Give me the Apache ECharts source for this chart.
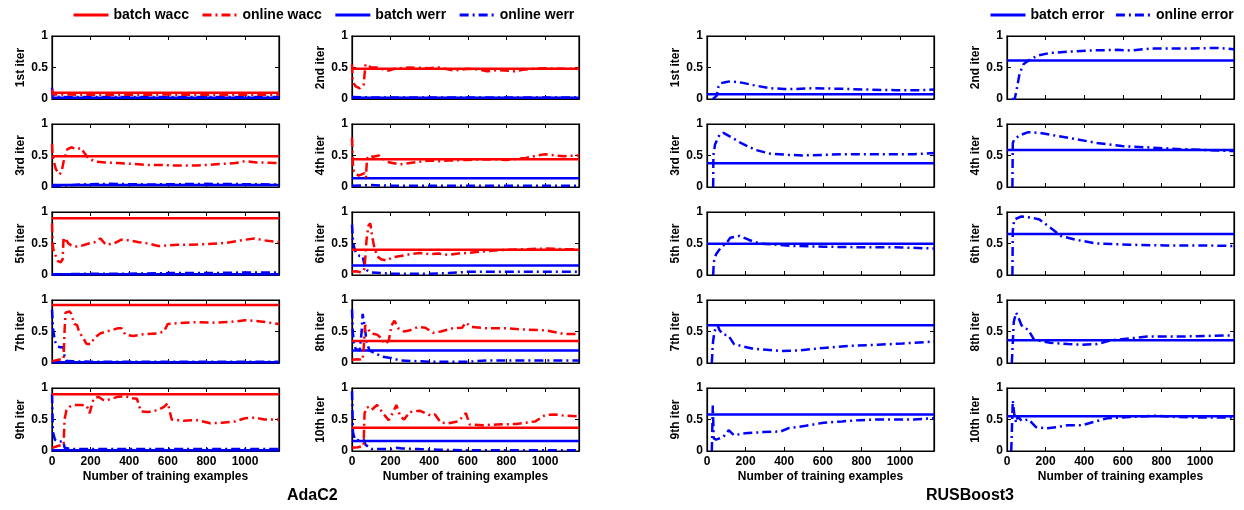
<!DOCTYPE html>
<html><head><meta charset="utf-8">
<script src="https://cdn.jsdelivr.net/npm/echarts@6/dist/echarts.min.js"></script>
<style>html,body{margin:0;padding:0;background:#fff}#c{width:1244px;height:510px}</style>
</head><body><div id="c"></div>
<script>
// ---------------- DATA ----------------
const xMax = 1176;
const xTicks = [0, 200, 400, 600, 800, 1000];
const iterNames = ['1st iter','2nd iter','3rd iter','4th iter','5th iter','6th iter','7th iter','8th iter','9th iter','10th iter'];

// AdaC2 batch constants
const adaBatchWacc = [0.10, 0.48, 0.49, 0.44, 0.90, 0.40, 0.92, 0.35, 0.90, 0.37];
const adaBatchWerr = [0.02, 0.02, 0.03, 0.14, 0.01, 0.15, 0.01, 0.20, 0.01, 0.16];
// RUSBoost3 batch constant
const rusBatchError = [0.074, 0.61, 0.377, 0.586, 0.497, 0.65, 0.60, 0.36, 0.58, 0.55];

// AdaC2 online wacc, [examples, value]
const adaOnlineWacc1 = [[0,0.15],[4,0.08],[20,0.07],[100,0.07],[300,0.065],[600,0.07],[900,0.065],[1176,0.07]];
const adaOnlineWacc2 = [[0,0.55],[3,0.3],[8,0.25],[20,0.2],[40,0.17],[60,0.22],[65,0.25],[70,0.55],[80,0.52],[100,0.5],[130,0.5],[160,0.47],[190,0.45],[220,0.48],[300,0.5],[400,0.49],[450,0.5],[530,0.45],[600,0.48],[650,0.47],[700,0.44],[760,0.46],[840,0.44],[900,0.47],[1000,0.49],[1100,0.48],[1176,0.48]];
const adaOnlineWacc3 = [[0,0.68],[3,0.5],[10,0.4],[20,0.28],[30,0.25],[40,0.2],[50,0.25],[60,0.4],[70,0.42],[80,0.6],[100,0.63],[130,0.6],[150,0.62],[170,0.53],[190,0.45],[200,0.42],[230,0.4],[280,0.39],[340,0.38],[400,0.37],[450,0.36],[500,0.35],[560,0.35],[650,0.34],[750,0.34],[850,0.36],[950,0.38],[1000,0.41],[1060,0.39],[1176,0.38]];
const adaOnlineWacc4 = [[0,0.78],[3,0.5],[6,0.28],[15,0.22],[25,0.25],[35,0.18],[50,0.2],[65,0.22],[72,0.15],[78,0.45],[90,0.5],[110,0.48],[140,0.5],[160,0.45],[180,0.4],[210,0.38],[250,0.36],[300,0.38],[350,0.4],[400,0.42],[450,0.41],[500,0.42],[600,0.43],[700,0.44],[800,0.43],[900,0.46],[960,0.5],[1000,0.52],[1050,0.5],[1100,0.49],[1176,0.5]];
const adaOnlineWacc5 = [[0,0.82],[3,0.5],[10,0.35],[20,0.3],[30,0.22],[45,0.2],[55,0.25],[60,0.6],[65,0.5],[75,0.55],[85,0.5],[100,0.47],[130,0.45],[160,0.47],[190,0.5],[220,0.52],[250,0.58],[280,0.48],[320,0.5],[360,0.56],[400,0.55],[450,0.52],[500,0.5],[550,0.46],[600,0.47],[650,0.48],[700,0.48],[800,0.49],[900,0.51],[1000,0.56],[1050,0.58],[1100,0.55],[1176,0.52]];
const adaOnlineWacc6 = [[0,0.05],[20,0.06],[50,0.04],[65,0.1],[75,0.55],[85,0.78],[95,0.82],[105,0.6],[115,0.45],[130,0.3],[150,0.25],[180,0.23],[210,0.28],[250,0.3],[300,0.33],[350,0.35],[400,0.33],[450,0.34],[500,0.32],[550,0.34],[600,0.35],[700,0.38],[800,0.4],[900,0.41],[1000,0.42],[1100,0.41],[1176,0.41]];
const adaOnlineWacc7 = [[0,0.03],[30,0.05],[60,0.06],[65,0.5],[70,0.8],[90,0.82],[100,0.78],[115,0.62],[130,0.6],[140,0.5],[160,0.4],[180,0.3],[200,0.3],[220,0.4],[250,0.47],[280,0.5],[310,0.52],[340,0.55],[360,0.55],[380,0.45],[420,0.43],[480,0.46],[550,0.47],[580,0.5],[600,0.62],[650,0.63],[750,0.65],[850,0.64],[950,0.66],[1000,0.68],[1080,0.66],[1176,0.62]];
const adaOnlineWacc8 = [[0,0.05],[30,0.06],[55,0.05],[62,0.3],[68,0.6],[80,0.55],[100,0.47],[130,0.45],[150,0.4],[170,0.3],[190,0.35],[205,0.6],[220,0.67],[240,0.55],[270,0.5],[300,0.52],[340,0.57],[380,0.56],[420,0.48],[460,0.5],[520,0.55],[570,0.56],[590,0.64],[620,0.57],[700,0.55],[800,0.55],[900,0.53],[1000,0.52],[1100,0.46],[1176,0.46]];
const adaOnlineWacc9 = [[0,0.05],[30,0.08],[60,0.1],[65,0.5],[75,0.65],[90,0.7],[110,0.73],[150,0.73],[180,0.72],[195,0.6],[215,0.83],[240,0.86],[270,0.8],[300,0.82],[340,0.86],[380,0.87],[410,0.84],[440,0.83],[460,0.63],[500,0.62],[550,0.65],[580,0.7],[600,0.76],[620,0.5],[680,0.48],[750,0.49],[820,0.44],[880,0.45],[950,0.47],[1000,0.52],[1050,0.53],[1100,0.5],[1176,0.5]];
const adaOnlineWacc10 = [[0,0.05],[30,0.06],[60,0.08],[65,0.6],[80,0.7],[100,0.65],[130,0.73],[160,0.6],[190,0.49],[210,0.6],[230,0.73],[250,0.55],[270,0.5],[300,0.62],[350,0.64],[380,0.6],[410,0.56],[430,0.58],[460,0.45],[500,0.44],[550,0.47],[590,0.6],[610,0.42],[680,0.41],[750,0.42],[850,0.43],[950,0.47],[1000,0.57],[1050,0.58],[1100,0.56],[1176,0.55]];

// AdaC2 online werr
const adaOnlineWerr1 = [[0,0.18],[3,0.08],[10,0.04],[50,0.03],[400,0.03],[800,0.03],[1176,0.03]];
const adaOnlineWerr2 = [[0,0.03],[100,0.025],[500,0.025],[1176,0.025]];
const adaOnlineWerr3 = [[0,0.01],[60,0.02],[150,0.04],[300,0.05],[500,0.04],[800,0.05],[1176,0.04]];
const adaOnlineWerr4 = [[0,0.02],[100,0.03],[200,0.02],[600,0.02],[1176,0.02]];
const adaOnlineWerr5 = [[0,0.01],[200,0.02],[400,0.02],[600,0.03],[800,0.03],[1000,0.04],[1176,0.04]];
const adaOnlineWerr6 = [[0,0.8],[5,0.55],[10,0.45],[20,0.35],[40,0.3],[55,0.3],[65,0.15],[80,0.07],[100,0.04],[200,0.02],[400,0.02],[500,0.03],[600,0.05],[800,0.05],[1000,0.05],[1176,0.05]];
const adaOnlineWerr7 = [[0,0.85],[5,0.55],[15,0.35],[25,0.28],[40,0.25],[60,0.25],[65,0.1],[75,0.03],[200,0.02],[1176,0.02]];
const adaOnlineWerr8 = [[0,0.85],[4,0.5],[10,0.3],[20,0.22],[40,0.2],[50,0.5],[55,0.78],[65,0.6],[75,0.35],[90,0.2],[120,0.15],[160,0.1],[200,0.08],[250,0.04],[400,0.02],[600,0.02],[700,0.04],[1176,0.04]];
const adaOnlineWerr9 = [[0,0.9],[5,0.3],[15,0.18],[30,0.15],[60,0.15],[65,0.05],[100,0.03],[1176,0.03]];
const adaOnlineWerr10 = [[0,0.95],[5,0.3],[15,0.18],[40,0.17],[60,0.18],[70,0.1],[100,0.03],[200,0.03],[230,0.05],[260,0.04],[350,0.03],[450,0.02],[600,0.01],[1176,0.01]];

// RUSBoost3 online error
const rusOnlineError1 = [[30,0],[50,0.05],[60,0.2],[70,0.25],[100,0.27],[120,0.28],[150,0.27],[180,0.26],[240,0.22],[325,0.17],[400,0.16],[460,0.16],[550,0.17],[720,0.16],[820,0.15],[975,0.14],[1100,0.14],[1176,0.15]];
const rusOnlineError2 = [[25,0],[40,0],[50,0.15],[65,0.4],[85,0.55],[120,0.63],[160,0.69],[220,0.73],[310,0.75],[430,0.77],[570,0.78],[640,0.77],[745,0.8],[920,0.8],[1090,0.81],[1176,0.79]];
const rusOnlineError3 = [[32,0],[33,0.5],[42,0.68],[65,0.83],[85,0.86],[120,0.8],[175,0.7],[250,0.59],[325,0.53],[420,0.51],[495,0.5],[605,0.51],[700,0.52],[830,0.52],[975,0.52],[1070,0.52],[1176,0.54]];
const rusOnlineError4 = [[28,0],[30,0.7],[37,0.75],[65,0.82],[110,0.87],[168,0.86],[260,0.81],[355,0.76],[465,0.7],[595,0.65],[725,0.63],[910,0.6],[1095,0.58],[1176,0.57]];
const rusOnlineError5 = [[32,0],[35,0.2],[47,0.33],[75,0.45],[100,0.5],[120,0.59],[168,0.62],[215,0.56],[270,0.5],[365,0.48],[455,0.46],[605,0.45],[790,0.44],[975,0.44],[1176,0.42]];
const rusOnlineError6 = [[28,0],[30,0.7],[37,0.88],[75,0.93],[130,0.91],[168,0.88],[225,0.75],[280,0.62],[355,0.56],[465,0.5],[635,0.48],[820,0.47],[1005,0.47],[1176,0.46]];
const rusOnlineError7 = [[25,0],[30,0.3],[38,0.5],[47,0.55],[55,0.6],[65,0.52],[85,0.45],[110,0.44],[140,0.3],[177,0.27],[233,0.23],[307,0.21],[382,0.19],[475,0.2],[605,0.24],[735,0.27],[885,0.29],[1015,0.31],[1176,0.34]];
const rusOnlineError8 = [[25,0],[35,0.65],[47,0.8],[55,0.75],[75,0.6],[93,0.55],[110,0.53],[140,0.37],[223,0.32],[316,0.3],[390,0.29],[465,0.3],[540,0.36],[635,0.39],[726,0.42],[910,0.42],[1176,0.44]];
const rusOnlineError9 = [[25,0],[30,0.72],[35,0.2],[47,0.18],[65,0.2],[84,0.22],[112,0.33],[140,0.25],[195,0.28],[290,0.3],[382,0.31],[420,0.36],[512,0.4],[605,0.45],[700,0.47],[790,0.49],[885,0.5],[977,0.5],[1070,0.5],[1176,0.52]];
const rusOnlineError10 = [[22,0],[30,0.8],[37,0.6],[47,0.45],[56,0.55],[75,0.48],[112,0.5],[150,0.38],[205,0.36],[260,0.38],[316,0.41],[390,0.41],[447,0.46],[520,0.52],[633,0.54],[763,0.56],[875,0.54],[1006,0.53],[1176,0.53]];

const adaOnlineWacc = [adaOnlineWacc1,adaOnlineWacc2,adaOnlineWacc3,adaOnlineWacc4,adaOnlineWacc5,adaOnlineWacc6,adaOnlineWacc7,adaOnlineWacc8,adaOnlineWacc9,adaOnlineWacc10];
const adaOnlineWerr = [adaOnlineWerr1,adaOnlineWerr2,adaOnlineWerr3,adaOnlineWerr4,adaOnlineWerr5,adaOnlineWerr6,adaOnlineWerr7,adaOnlineWerr8,adaOnlineWerr9,adaOnlineWerr10];
const rusOnlineError = [rusOnlineError1,rusOnlineError2,rusOnlineError3,rusOnlineError4,rusOnlineError5,rusOnlineError6,rusOnlineError7,rusOnlineError8,rusOnlineError9,rusOnlineError10];

// ---------------- LAYOUT ----------------
const colLefts = [52, 352, 707, 1007];
const rowTops = [36, 124, 212, 300, 388];
const panelW = 227, panelH = 63;
const RED = '#ff0000', BLUE = '#0000ff';
const FONT = 'Liberation Sans, Arial, sans-serif';
const DASHDOT = [9, 4, 2, 4];

const grid = [], xAxis = [], yAxis = [], series = [];
function hline(v){ return [[0, v], [xMax, v]]; }

for (let m = 0; m < 2; m++) {
  for (let k = 0; k < 10; k++) {
    const col = 2*m + (k % 2), row = Math.floor(k / 2);
    const g = grid.length;
    grid.push({left: colLefts[col], top: rowTops[row], width: panelW, height: panelH, show: true, borderColor: '#000', borderWidth: 1.2, backgroundColor: 'transparent'});
    const tickStyle = {show: true, inside: true, length: 4, lineStyle: {color: '#000', width: 1}};
    const lineStyle = {show: true, onZero: false, lineStyle: {color: '#000', width: 1.2}};
    xAxis.push({
      type: 'value', gridIndex: g, min: 0, max: xMax, interval: 200, position: 'bottom',
      axisLine: lineStyle, axisTick: tickStyle, splitLine: {show: false},
      axisLabel: {show: row === 4, showMaxLabel: false, formatter: v => String(v), color: '#000', fontFamily: FONT, fontWeight: 'bold', fontSize: 12, margin: 5},
      name: row === 4 ? 'Number of training examples' : '', nameLocation: 'middle', nameGap: 20,
      nameTextStyle: {color: '#000', fontFamily: FONT, fontWeight: 'bold', fontSize: 12}
    });
    xAxis.push({
      type: 'value', gridIndex: g, min: 0, max: xMax, interval: 200, position: 'top',
      axisLine: lineStyle, axisTick: tickStyle, splitLine: {show: false}, axisLabel: {show: false}
    });
    yAxis.push({
      type: 'value', gridIndex: g, min: 0, max: 1, interval: 0.5, position: 'left',
      axisLine: lineStyle, axisTick: tickStyle, splitLine: {show: false},
      axisLabel: {color: '#000', fontFamily: FONT, fontWeight: 'bold', fontSize: 12, margin: 4},
      name: iterNames[k], nameLocation: 'middle', nameGap: 25,
      nameTextStyle: {color: '#000', fontFamily: FONT, fontWeight: 'bold', fontSize: 12}
    });
    yAxis.push({
      type: 'value', gridIndex: g, min: 0, max: 1, interval: 0.5, position: 'right',
      axisLine: lineStyle, axisTick: tickStyle, splitLine: {show: false}, axisLabel: {show: false}
    });
    const base = {type: 'line', xAxisIndex: 2*g, yAxisIndex: 2*g, symbol: 'none', showSymbol: false, animation: false, silent: true};
    if (m === 0) {
      series.push(Object.assign({}, base, {name: 'online werr', data: adaOnlineWerr[k], itemStyle: {color: BLUE}, lineStyle: {color: BLUE, width: 2.5, type: DASHDOT}}));
      series.push(Object.assign({}, base, {name: 'batch werr', data: hline(adaBatchWerr[k]), itemStyle: {color: BLUE}, lineStyle: {color: BLUE, width: 2.5, type: 'solid'}}));
      series.push(Object.assign({}, base, {name: 'online wacc', data: adaOnlineWacc[k], itemStyle: {color: RED}, lineStyle: {color: RED, width: 2.5, type: DASHDOT}}));
      series.push(Object.assign({}, base, {name: 'batch wacc', data: hline(adaBatchWacc[k]), itemStyle: {color: RED}, lineStyle: {color: RED, width: 2.5, type: 'solid'}}));
    } else {
      series.push(Object.assign({}, base, {name: 'batch error', data: hline(rusBatchError[k]), itemStyle: {color: BLUE}, lineStyle: {color: BLUE, width: 2.5, type: 'solid'}}));
      series.push(Object.assign({}, base, {name: 'online error', data: rusOnlineError[k], itemStyle: {color: BLUE}, lineStyle: {color: BLUE, width: 2.5, type: DASHDOT}}));
    }
  }
}

const legendText = {color: '#000', fontFamily: FONT, fontWeight: 'bold', fontSize: 14};
const legendCommon = {top: 8, padding: 0, itemWidth: 35, itemHeight: 14, itemGap: 12, textStyle: legendText, selectedMode: false, itemStyle: {opacity: 0, borderWidth: 0}, lineStyle: {width: 3}};
const option = {
  backgroundColor: '#fff',
  animation: false,
  textStyle: {fontFamily: FONT},
  grid, xAxis, yAxis, series,
  legend: [
    Object.assign({data: ['batch wacc', 'online wacc', 'batch werr', 'online werr'], left: 72}, legendCommon),
    Object.assign({data: ['batch error', 'online error'], left: 989, width: 255}, legendCommon, {itemGap: 10})
  ],
  graphic: [
    {type: 'text', left: 287, top: 488, style: {text: 'AdaC2', font: 'bold 16px ' + FONT, fill: '#000'}},
    {type: 'text', left: 926, top: 488, style: {text: 'RUSBoost3', font: 'bold 16px ' + FONT, fill: '#000'}}
  ]
};
const chart = echarts.init(document.getElementById('c'), null, {renderer: 'canvas'});
chart.setOption(option);
</script></body></html>
